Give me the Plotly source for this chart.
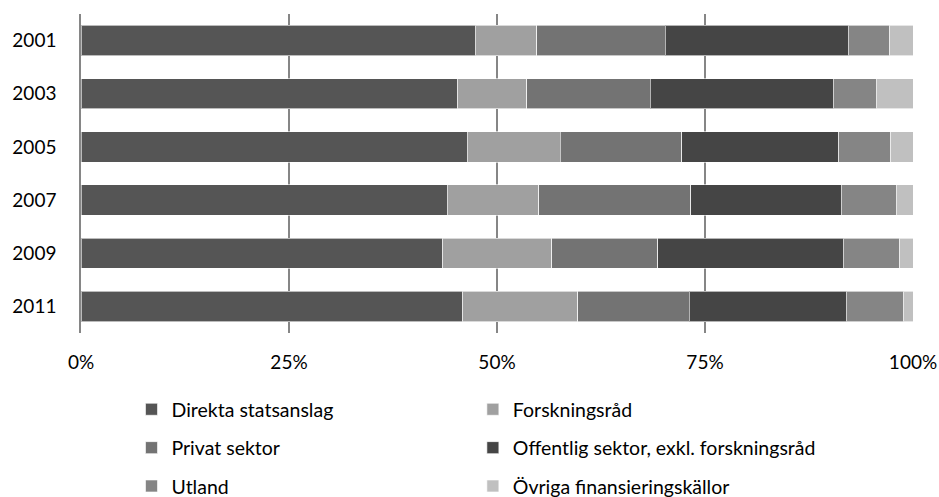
import plotly.graph_objects as go

years = ["2001", "2003", "2005", "2007", "2009", "2011"]
series_names = ["Direkta statsanslag", "Forskningsråd", "Privat sektor",
                "Offentlig sektor, exkl. forskningsråd", "Utland", "Övriga finansieringskällor"]
direkta = [47.4, 45.3, 46.4, 44.0, 43.5, 45.9]
forskningsrad = [7.4, 8.3, 11.2, 11.0, 13.1, 13.8]
privat = [15.4, 14.8, 14.6, 18.3, 12.7, 13.4]
offentlig = [22.0, 22.0, 18.9, 18.1, 22.3, 18.9]
utland = [5.0, 5.2, 6.2, 6.6, 6.8, 6.8]
ovriga = [2.8, 4.4, 2.7, 2.0, 1.6, 1.2]
values = [direkta, forskningsrad, privat, offentlig, utland, ovriga]
colors = ["#555555", "#a0a0a0", "#737373", "#454545", "#858585", "#c0c0c0"]
legends = ["legend", "legend2", "legend", "legend2", "legend", "legend2"]
x_tickvals = [0, 25, 50, 75, 100]
x_ticktext = ["0%", "25%", "50%", "75%", "100%"]

FONT = "Lato, sans-serif"

fig = go.Figure()
for i, (name, vals, col, lg) in enumerate(zip(series_names, values, colors, legends)):
    fig.add_trace(go.Bar(
        y=years, x=vals, name=name, orientation="h",
        marker=dict(color=col, line=dict(color="rgba(255,255,255,0.6)", width=1)),
        legend=lg, legendgroup=f"g{i}",
    ))

fig.update_layout(
    barmode="stack",
    bargap=0.43,
    width=939, height=497,
    margin=dict(l=81, r=26, t=14, b=164, autoexpand=False),
    paper_bgcolor="white", plot_bgcolor="white",
    font=dict(family=FONT, size=19, color="#000000"),
    xaxis=dict(range=[0, 100], tickvals=x_tickvals, ticktext=x_ticktext,
               showgrid=True, gridcolor="#868686", gridwidth=1.5,
               zeroline=False, showline=False, ticks="", ticklabelstandoff=16,
               automargin=False, fixedrange=True),
    yaxis=dict(categoryorder="array", categoryarray=years, autorange="reversed",
               showline=True, linecolor="#868686", linewidth=1.5,
               ticks="", ticklabelstandoff=19, showgrid=False, automargin=False),
    legend=dict(x=0.0607, y=-0.179, xanchor="left", yanchor="top",
                orientation="v", tracegroupgap=10, itemwidth=30,
                font=dict(family=FONT, size=19.5), bgcolor="rgba(0,0,0,0)"),
    legend2=dict(x=0.471, y=-0.179, xanchor="left", yanchor="top",
                 orientation="v", tracegroupgap=10, itemwidth=30,
                 font=dict(family=FONT, size=19.5), bgcolor="rgba(0,0,0,0)"),
    showlegend=True,
)

fig.write_html(
    "out.html",
    config={"displayModeBar": False},
    post_script="document.body.style.margin='0';document.body.style.overflow='hidden';",
)
